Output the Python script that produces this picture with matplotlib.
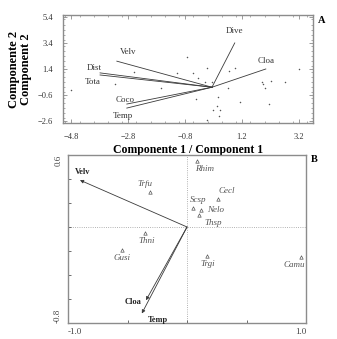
import matplotlib
matplotlib.use('Agg')
import matplotlib.pyplot as plt
import numpy as np
from matplotlib.ticker import MultipleLocator

plt.rcParams['font.family'] = ['Liberation Serif', 'DejaVu Serif']

# ---- panel A: PCA biplot (component 1 vs component 2)
a_origin = (0.15, 0.0)
a_vec_names = ['Dive', 'Cloa', 'Velv', 'Dist', 'Tota', 'Coco', 'Temp']
a_vec_x = [0.95, 2.04, -3.19, -3.78, -3.78, -2.84, -2.84]
a_vec_y = [3.4, 1.4, 2.0, 1.1, 0.94, -1.29, -1.6]
a_pts_x = [-4.8, -3.26, -2.58, -1.64, -1.09, -0.74, -0.51, -0.41, -0.33, -0.04,
           -0.1, 0.16, -0.04, 0.37, 0.33, 0.19, 0.43, 0.39, 0.75, 0.72,
           0.95, 1.13, 1.91, 2.01, 1.95, 2.24, 2.16, 2.71, 3.21]
a_pts_y = [-0.2, 0.22, 1.15, -0.09, 1.12, 2.35, 1.12, -0.93, 0.68, 1.5,
           0.42, 0.42, -2.52, -0.73, -1.45, -1.75, -1.75, -2.19, 1.25, -0.09,
           1.45, -1.11, 0.42, -0.04, 0.22, 0.48, -1.32, 0.42, 1.38]
a_xticks = [-4.8, -2.8, -0.8, 1.2, 3.2]
a_yticks = [-2.6, -0.6, 1.4, 3.4, 5.4]

# ---- panel B: species (triangles) and variables (arrows)
b_sp_names = ['Rhim', 'Trfu', 'Cecl', 'Scsp', 'Nelo', 'Thsp', 'Thni', 'Gusi', 'Trgi', 'Camu']
b_sp_x = [0.08, -0.31, 0.26, 0.05, 0.12, 0.10, -0.35, -0.55, 0.17, 0.96]
b_sp_y = [0.55, 0.29, 0.23, 0.16, 0.14, 0.10, -0.05, -0.19, -0.24, -0.25]
b_arr_names = ['Velv', 'Cloa', 'Temp']
b_arr_x = [-0.90, -0.345, -0.38]
b_arr_y = [0.39, -0.61, -0.72]

frame = '#8c8c8c'
ink = '#3a3a3a'

fig = plt.figure(figsize=(3.37, 3.39), dpi=100)

# ---------------- A
ax = fig.add_axes([0.187, 0.637, 0.742, 0.319])
ax.set_xlim(-5.08, 3.7)
ax.set_ylim(-2.75, 5.55)
ax.scatter(a_pts_x, a_pts_y, s=1.2, color='#555555', lw=0, zorder=2)
lab_off = {'Dive': (0, 6, 'center', 'bottom'), 'Cloa': (0, 3, 'center', 'bottom'),
           'Velv': (8, 4, 'center', 'bottom'), 'Dist': (-4, 1, 'center', 'bottom'),
           'Tota': (-5, -2, 'center', 'top'), 'Coco': (-1, 0, 'center', 'bottom'),
           'Temp': (-3, -3, 'center', 'top')}
for name, x, y in zip(a_vec_names, a_vec_x, a_vec_y):
    ax.plot([a_origin[0], x], [a_origin[1], y], color=ink, lw=0.6, zorder=3)
    dx, dy, ha, va = lab_off[name]
    ax.annotate(name, (x, y), xytext=(dx, dy), textcoords='offset points',
                ha=ha, va=va, fontsize=6.5, color='#333333')
ax.set_xticks(a_xticks)
ax.set_yticks(a_yticks)
ax.xaxis.set_minor_locator(MultipleLocator(0.5))
ax.yaxis.set_minor_locator(MultipleLocator(0.4))
ax.tick_params(which='both', direction='in', top=True, right=True,
               color=frame, labelsize=6, labelcolor='#333333', pad=7)
ax.tick_params(which='major', length=3, width=0.6)
ax.tick_params(which='minor', length=1.5, width=0.5)
for s in ax.spines.values():
    s.set_color(frame)
    s.set_linewidth(1.0)
ax.set_ylabel('Componente 2\nComponent 2', fontsize=9, fontweight='bold',
              labelpad=4, linespacing=1.05)
ax.set_xlabel('Componente 1 / Component 1', fontsize=8.5, fontweight='bold',
              labelpad=2)
ax.text(1.02, 0.95, 'A', transform=ax.transAxes, fontsize=7.5,
        fontweight='bold', ha='left', va='center')

# ---------------- B
bx = fig.add_axes([0.202, 0.047, 0.706, 0.496])
bx.set_xlim(-1.0, 1.0)
bx.set_ylim(-0.8, 0.6)
bx.axhline(0, color='#999999', lw=0.6, ls=':', zorder=1)
bx.axvline(0, color='#999999', lw=0.6, ls=':', zorder=1)
bx.scatter(b_sp_x, b_sp_y, marker='^', s=6, facecolor='white',
           edgecolor='#555555', lw=0.5, zorder=3)
sp_off = {'Rhim': (6, -3, 'center', 'top'), 'Trfu': (-4, 3, 'center', 'bottom'),
          'Cecl': (6, 3, 'center', 'bottom'), 'Scsp': (4, 3, 'center', 'bottom'),
          'Nelo': (4, 0, 'left', 'center'), 'Thsp': (4, -3, 'left', 'top'),
          'Thni': (1, -3, 'center', 'top'), 'Gusi': (0, -3, 'center', 'top'),
          'Trgi': (0, -3, 'center', 'top'), 'Camu': (-5, -3, 'center', 'top')}
for name, x, y in zip(b_sp_names, b_sp_x, b_sp_y):
    dx, dy, ha, va = sp_off[name]
    bx.annotate(name, (x, y), xytext=(dx, dy), textcoords='offset points',
                ha=ha, va=va, fontsize=6.5, style='italic', color='#555555')
arr_off = {'Velv': (2, 3, 'center', 'bottom'), 'Cloa': (-3, -1, 'right', 'center'),
           'Temp': (4, -2, 'left', 'top')}
for name, x, y in zip(b_arr_names, b_arr_x, b_arr_y):
    bx.annotate('', xy=(x, y), xytext=(0, 0),
                arrowprops=dict(arrowstyle='-|>', color=ink, lw=0.6,
                                mutation_scale=5, shrinkA=0, shrinkB=0))
    dx, dy, ha, va = arr_off[name]
    bx.annotate(name, (x, y), xytext=(dx, dy), textcoords='offset points',
                ha=ha, va=va, fontsize=6, fontweight='bold', color='#222222')
bx.set_xticks([-0.5, 0, 0.5])
bx.set_yticks([-0.6, -0.4, -0.2, 0, 0.2, 0.4])
bx.set_xticklabels([])
bx.set_yticklabels([])
bx.tick_params(direction='in', length=2, width=0.6, color='#555555')
for s in bx.spines.values():
    s.set_color(frame)
    s.set_linewidth(1.0)
bx.text(-1.0, -0.84, '-1.0', ha='left', va='top', fontsize=6.5, color='#444444')
bx.text(1.0, -0.84, '1.0', ha='right', va='top', fontsize=6.5, color='#444444')
bx.text(-1.05, 0.6, '0.6', ha='right', va='top', rotation=90, fontsize=6.5,
        color='#444444')
bx.text(-1.05, -0.8, '-0.8', ha='right', va='bottom', rotation=90, fontsize=6.5,
        color='#444444')
bx.text(1.04, 0.565, 'B', ha='left', va='center', fontsize=7.5,
        fontweight='bold')

fig.savefig('out.png', dpi=100)
